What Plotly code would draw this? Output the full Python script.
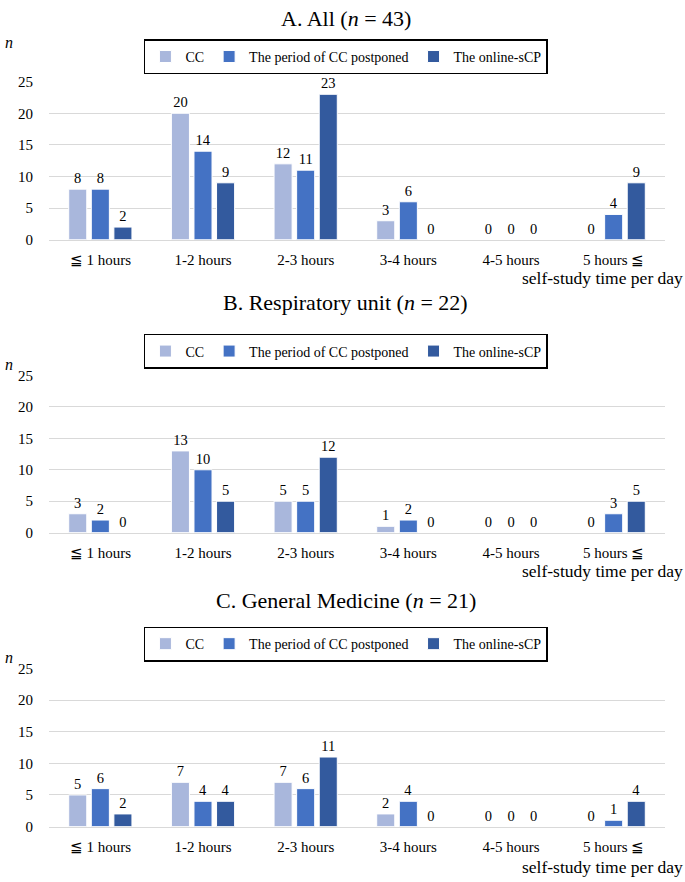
import plotly.graph_objects as go

categories = ["≦ 1 hours", "1-2 hours", "2-3 hours", "3-4 hours", "4-5 hours", "5 hours ≦"]
series_names = ["CC", "The period of CC postponed", "The online-sCP"]
colors = ["#A9B7DC", "#4472C4", "#335A9E"]

all_cc = [8, 20, 12, 3, 0, 0]
all_post = [8, 14, 11, 6, 0, 4]
all_online = [2, 9, 23, 0, 0, 9]

resp_cc = [3, 13, 5, 1, 0, 0]
resp_post = [2, 10, 5, 2, 0, 3]
resp_online = [0, 5, 12, 0, 0, 5]

gm_cc = [5, 7, 7, 2, 0, 0]
gm_post = [6, 4, 6, 4, 0, 1]
gm_online = [2, 4, 11, 0, 0, 4]

panel_titles = ["A. All (<i>n</i> = 43)", "B. Respiratory unit (<i>n</i> = 22)",
                "C. General Medicine (<i>n</i> = 21)"]
panels = [[all_cc, all_post, all_online], [resp_cc, resp_post, resp_online],
          [gm_cc, gm_post, gm_online]]

W, H = 685, 882
FONT = "Liberation Serif, Times New Roman, serif"

geo = [
    dict(top=75, bottom=236, title=11, leg=32, n=35, xl=275),
    dict(top=374.3, bottom=534.3, title=300, leg=332, n=363, xl=573),
    dict(top=672.7, bottom=833.7, title=603, leg=630, n=662, xl=875),
]

def py(p):
    return 1 - p / H

fig = go.Figure()
annotations = []
for i, (vals, g) in enumerate(zip(panels, geo)):
    ax = "" if i == 0 else str(i + 1)
    leg = "legend" if i == 0 else f"legend{i + 1}"
    for name, v, c in zip(series_names, vals, colors):
        fig.add_trace(go.Bar(
            x=categories, y=v, name=name, marker=dict(color=c, line=dict(color="white", width=1)),
            text=[str(t) for t in v], textposition="outside", cliponaxis=False,
            textfont=dict(family=FONT, size=14.5, color="black"),
            xaxis="x" + ax, yaxis="y" + ax, legend=leg,
        ))
    fig.layout["xaxis" + ax] = dict(
        domain=[49 / W, 665 / W], anchor="y" + ax, showline=True, linecolor="#D9D9D9",
        linewidth=1, ticks="outside", ticklen=6, tickcolor="rgba(0,0,0,0)",
        tickfont=dict(family=FONT, size=15, color="black"), showgrid=False,
    )
    fig.layout["yaxis" + ax] = dict(
        domain=[py(g["bottom"]), py(g["top"])], anchor="x" + ax, range=[0, 25],
        tickvals=[0, 5, 10, 15, 20, 25], showgrid=True, gridcolor="#D9D9D9", gridwidth=1,
        zeroline=False, ticks="outside", ticklen=12, tickcolor="rgba(0,0,0,0)",
        tickfont=dict(family=FONT, size=15, color="black"),
    )
    fig.layout[leg] = dict(
        orientation="h", x=0.505, xanchor="center", y=py(g["leg"]), yanchor="top",
        bordercolor="black", borderwidth=1.5, bgcolor="white",
        font=dict(family=FONT, size=14, color="black"), itemwidth=30, traceorder="normal",
    )
    annotations.append(dict(text=panel_titles[i], x=0.505, xref="paper", y=py(g["title"]),
                            yref="paper", yanchor="middle", showarrow=False,
                            font=dict(family=FONT, size=22, color="black")))
    annotations.append(dict(text="<i>n</i>", x=3 / W, xref="paper", xanchor="left",
                            y=py(g["n"]), yref="paper", yanchor="middle", showarrow=False,
                            font=dict(family=FONT, size=16, color="black")))
    annotations.append(dict(text="self-study time per day", x=1, xref="paper", xanchor="right",
                            y=py(g["xl"]), yref="paper", yanchor="middle", showarrow=False,
                            font=dict(family=FONT, size=17.5, color="black")))

fig.update_layout(
    width=W, height=H, margin=dict(l=0, r=0, t=0, b=0),
    paper_bgcolor="white", plot_bgcolor="white",
    barmode="group", bargap=0.34, bargroupgap=0.2,
    annotations=annotations, showlegend=True,
    font=dict(family=FONT, color="black"),
)
fig.write_html("out.html", config={"displayModeBar": False},
               post_script="document.body.style.margin='0';document.body.style.overflow='hidden';")
